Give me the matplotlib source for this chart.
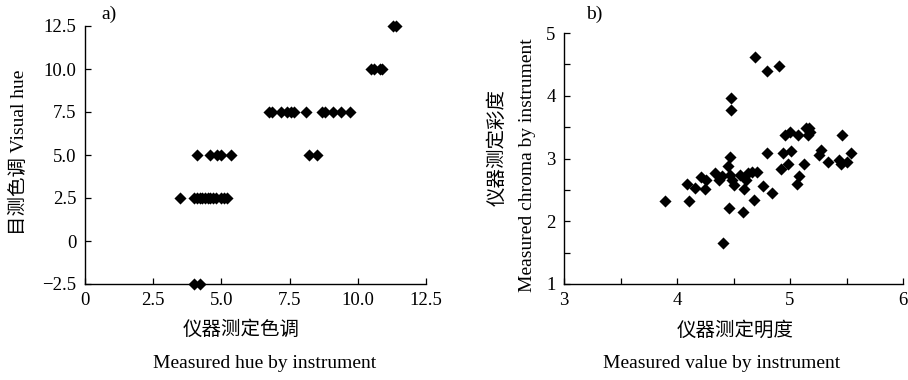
import matplotlib
matplotlib.use("Agg")
import matplotlib.pyplot as plt
from matplotlib.ticker import MultipleLocator, FixedLocator, FixedFormatter

plt.rcParams['font.family'] = ['Liberation Serif', 'Noto Sans CJK SC']
plt.rcParams['axes.unicode_minus'] = True

# Panel a) data: measured hue (x) vs visual hue (y)
hue_instr = [4.0, 4.2,
             3.5, 4.0, 4.1, 4.2, 4.3, 4.4, 4.5, 4.6, 4.7, 4.8, 5.0, 5.1, 5.2,
             4.1, 4.6, 4.85, 5.0, 5.35, 8.2, 8.5,
             6.75, 6.85, 7.2, 7.4, 7.55, 7.65, 8.1, 8.7, 8.8, 9.1, 9.4, 9.7,
             10.5, 10.6, 10.8, 10.9,
             11.3, 11.4]
hue_visual = [-2.5, -2.5,
              2.5, 2.5, 2.5, 2.5, 2.5, 2.5, 2.5, 2.5, 2.5, 2.5, 2.5, 2.5, 2.5,
              5.0, 5.0, 5.0, 5.0, 5.0, 5.0, 5.0,
              7.5, 7.5, 7.5, 7.5, 7.5, 7.5, 7.5, 7.5, 7.5, 7.5, 7.5, 7.5,
              10.0, 10.0, 10.0, 10.0,
              12.5, 12.5]

# Panel b) data: measured value (x) vs measured chroma (y)
value_instr = [3.89, 4.09, 4.11, 4.16, 4.21, 4.25, 4.26, 4.34, 4.37, 4.40,
               4.41, 4.45, 4.46, 4.47, 4.47, 4.48, 4.48, 4.49, 4.50, 4.56,
               4.58, 4.59, 4.61, 4.63, 4.66, 4.68, 4.69, 4.71, 4.76, 4.80,
               4.80, 4.84, 4.90, 4.92, 4.94, 4.96, 4.98, 5.00, 5.01, 5.07,
               5.06, 5.08, 5.12, 5.14, 5.16, 5.17, 5.18, 5.26, 5.27, 5.34,
               5.43, 5.45, 5.46, 5.50, 5.54]
chroma_instr = [2.33, 2.60, 2.33, 2.53, 2.71, 2.51, 2.66, 2.77, 2.66, 2.72,
                1.65, 2.88, 2.21, 3.03, 2.74, 3.96, 3.77, 2.66, 2.58, 2.74,
                2.15, 2.51, 2.66, 2.77, 2.79, 2.34, 4.61, 2.79, 2.56, 4.40,
                3.09, 2.45, 4.47, 2.84, 3.09, 3.37, 2.92, 3.43, 3.12, 3.37,
                2.59, 2.72, 2.91, 3.48, 3.37, 3.48, 3.43, 3.06, 3.14, 2.95,
                2.98, 2.91, 3.37, 2.95, 3.08]

a_xticks = [0, 2.5, 5.0, 7.5, 10.0, 12.5]
a_xticklabels = ["0", "2.5", "5.0", "7.5", "10.0", "12.5"]
a_yticks = [-2.5, 0, 2.5, 5.0, 7.5, 10.0, 12.5]
a_yticklabels = ["\u22122.5", "0", "2.5", "5.0", "7.5", "10.0", "12.5"]

W, H = 908, 380
fig = plt.figure(figsize=(W / 100, H / 100), dpi=100)

ax1 = fig.add_axes([85 / W, 96 / H, 341 / W, 258 / H])
ax2 = fig.add_axes([564 / W, 96 / H, 339 / W, 251 / H])

fs = 13.5
lfs = 14


def ftext(px, py, s, **kw):
    fig.text(px / W, 1 - py / H, s, ha='center', va='center', fontsize=lfs, **kw)


for ax in (ax1, ax2):
    for s in ('top', 'right'):
        ax.spines[s].set_visible(False)
    for s in ('left', 'bottom'):
        ax.spines[s].set_linewidth(1.0)
    ax.tick_params(which='both', direction='in', length=4, width=0.9,
                   labelsize=fs, pad=6)
    ax.patch.set_alpha(0)

ax1.scatter(hue_instr, hue_visual, marker='D', s=38, color='black',
            linewidths=0, clip_on=False, zorder=3)
ax1.set_xlim(0, 12.5)
ax1.set_ylim(-2.5, 12.5)
ax1.xaxis.set_major_locator(FixedLocator(a_xticks))
ax1.xaxis.set_major_formatter(FixedFormatter(a_xticklabels))
ax1.yaxis.set_major_locator(FixedLocator(a_yticks))
ax1.yaxis.set_major_formatter(FixedFormatter(a_yticklabels))

ax2.scatter(value_instr, chroma_instr, marker='D', s=38, color='black',
            linewidths=0, clip_on=False, zorder=3)
ax2.set_xlim(3, 6)
ax2.set_ylim(1, 5)
ax2.xaxis.set_major_locator(MultipleLocator(1))
ax2.xaxis.set_minor_locator(MultipleLocator(0.5))
ax2.yaxis.set_major_locator(MultipleLocator(1))
ax2.yaxis.set_minor_locator(MultipleLocator(0.5))

# axis titles
ftext(241, 330, "仪器测定色调")
ftext(265, 364, "Measured hue by instrument")
ftext(19, 152, "目测色调 Visual hue", rotation=90)
ftext(735, 330, "仪器测定明度")
ftext(722, 364, "Measured value by instrument")
ftext(497, 148, "仪器测定彩度", rotation=90)
ftext(527, 165, "Measured chroma by instrument", rotation=90)

# panel labels
ftext(109, 14, "a)")
ftext(594, 14, "b)")

fig.savefig("out.png", dpi=100)
